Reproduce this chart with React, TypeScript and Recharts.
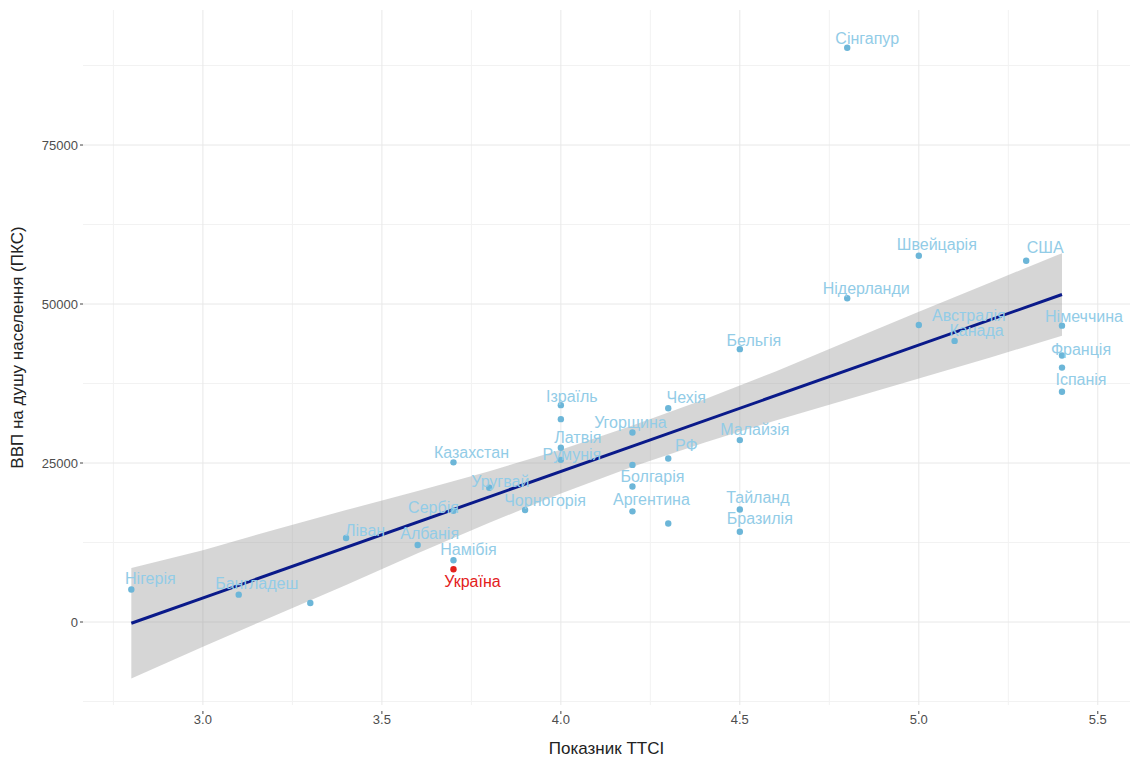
import React from "react";
import {
  ComposedChart,
  Scatter,
  Area,
  Line,
  XAxis,
  YAxis,
  CartesianGrid,
} from "recharts";

const countries = [
  "Сінгапур", "Швейцарія", "США", "Нідерланди", "Австралія", "Канада",
  "Німеччина", "Франція", "", "Іспанія", "Бельгія", "Ізраїль", "",
  "Латвія", "Румунія", "Чехія", "Угорщина", "РФ", "Малайзія", "",
  "Болгарія", "Аргентина", "", "Тайланд", "Бразилія", "Казахстан",
  "Уругвай", "Чорногорія", "Сербія", "Албанія", "Намібія", "Україна",
  "Ліван", "Нігерія", "Бангладеш", "",
];
const ttci = [
  4.8, 5.0, 5.3, 4.8, 5.0, 5.1,
  5.4, 5.4, 5.4, 5.4, 4.5, 4.0, 4.0,
  4.0, 4.0, 4.3, 4.2, 4.3, 4.5, 4.2,
  4.2, 4.2, 4.3, 4.5, 4.5, 3.7,
  3.8, 3.9, 3.7, 3.6, 3.7, 3.7,
  3.4, 2.8, 3.1, 3.3,
];
const gdp = [
  90300, 57600, 56800, 50900, 46700, 44200,
  46600, 41900, 40000, 36200, 42900, 34100, 31900,
  27400, 25500, 33600, 29800, 25700, 28600, 24700,
  21300, 17400, 15500, 17700, 14200, 25100,
  21100, 17600, 17500, 12100, 9700, 8300,
  13200, 5100, 4300, 3000,
];

// linear fit and its confidence band
const fitX = [2.8, 5.4];
const fitY = [-200, 51500];
const bandX = [2.8, 3.0, 3.2, 3.4, 3.6, 3.8, 4.0, 4.2, 4.4, 4.6, 4.8, 5.0, 5.2, 5.4];
const bandLow = [-8900, -3900, 1000, 5800, 10800, 15600, 20200, 24400, 28200, 31700, 35000, 38300, 41600, 45000];
const bandHigh = [8500, 11300, 14500, 17600, 20600, 23700, 27100, 30900, 35000, 39400, 44100, 48800, 53400, 58000];

const xTicks = [3.0, 3.5, 4.0, 4.5, 5.0, 5.5];
const yTicks = [0, 25000, 50000, 75000];
const xMinor = [2.75, 3.25, 3.75, 4.25, 4.75, 5.25];
const yMinor = [-12500, 12500, 37500, 62500, 87500];

// label offsets in px (text centre relative to the point)
const labelOffset: Record<string, [number, number]> = {
  "Сінгапур": [20, -9], "Швейцарія": [18, -11], "США": [19, -13],
  "Нідерланди": [19, -10], "Австралія": [50, -10], "Канада": [22, -10],
  "Німеччина": [22, -9], "Франція": [19, -6], "Іспанія": [19, -12],
  "Бельгія": [14, -9], "Ізраїль": [11, -9], "Латвія": [17, -10],
  "Румунія": [11, -5], "Чехія": [18, -11], "Угорщина": [-2, -10],
  "РФ": [18, -13], "Малайзія": [15, -11], "Болгарія": [20, -10],
  "Аргентина": [19, -12], "Тайланд": [18, -12], "Бразилія": [20, -13],
  "Казахстан": [18, -10], "Уругвай": [11, -6], "Чорногорія": [20, -10],
  "Сербія": [-20, -3], "Албанія": [12, -12], "Намібія": [15, -11],
  "Україна": [19, 12], "Ліван": [19, -8], "Нігерія": [19, -11],
  "Бангладеш": [18, -11],
};

const points = countries.map((name, i) => ({ name, x: ttci[i], gdp: gdp[i] }));
const fit = fitX.map((x, i) => ({ x, fit: fitY[i] }));
const band = bandX.map((x, i) => ({ x, band: [bandLow[i], bandHigh[i]] }));

const FONT = "'Liberation Sans', Arial, sans-serif";

function CountryDot(props: any) {
  const { cx, cy, payload } = props;
  const red = payload.name === "Україна";
  const off = labelOffset[payload.name] || [0, 0];
  return (
    <g>
      <circle cx={cx} cy={cy} r={3.2} fill={red ? "#e3211c" : "#6cb6d8"} />
      {payload.name && (
        <text
          x={cx + off[0]}
          y={cy + off[1]}
          textAnchor="middle"
          dominantBaseline="central"
          fontFamily={FONT}
          fontSize={16}
          fill={red ? "#e3211c" : "#92cce7"}
        >
          {payload.name}
        </text>
      )}
    </g>
  );
}

function YTitle(props: any) {
  const { viewBox } = props;
  const cy = viewBox.y + viewBox.height / 2 - 10;
  return (
    <text
      x={17}
      y={cy}
      transform={`rotate(-90, 17, ${cy})`}
      textAnchor="middle"
      dominantBaseline="central"
      fontFamily={FONT}
      fontSize={17}
      fill="#222"
    >
      ВВП на душу населення (ПКС)
    </text>
  );
}

export default function App() {
  return (
    <div style={{ position: "absolute", left: 0, top: 0, background: "#fff" }}>
      <ComposedChart
        width={1134}
        height={761}
        margin={{ top: 10, right: 4, bottom: 0, left: 0 }}
      >
        <CartesianGrid
          stroke="#f2f2f2"
          horizontalValues={yMinor}
          verticalValues={xMinor}
        />
        <CartesianGrid
          stroke="#e8e8e8"
          horizontalValues={yTicks}
          verticalValues={xTicks}
        />
        <XAxis
          type="number"
          dataKey="x"
          domain={[2.665, 5.59]}
          allowDataOverflow
          ticks={xTicks}
          tickFormatter={(v: number) => v.toFixed(1)}
          axisLine={false}
          tickSize={3}
          tickMargin={7}
          tickLine={{ stroke: "#444", transform: "translate(0, 6)" }}
          tick={{ fontSize: 13, fill: "#4d4d4d", fontFamily: FONT }}
          height={56}
          label={{
            value: "Показник TTCI",
            position: "insideBottom",
            offset: 7,
            style: { fontSize: 17, fill: "#222", fontFamily: FONT },
          }}
        />
        <YAxis
          type="number"
          domain={[-13050, 96230]}
          allowDataOverflow
          ticks={yTicks}
          axisLine={false}
          tickSize={3}
          tickLine={{ stroke: "#444" }}
          tick={{ fontSize: 13, fill: "#4d4d4d", fontFamily: FONT }}
          width={83}
          label={<YTitle />}
        />
        <Scatter
          data={points}
          dataKey="gdp"
          shape={<CountryDot />}
          isAnimationActive={false}
        />
        <Area
          data={band}
          dataKey="band"
          type="linear"
          stroke="none"
          fill="#999999"
          fillOpacity={0.4}
          isAnimationActive={false}
        />
        <Line
          data={fit}
          dataKey="fit"
          type="linear"
          stroke="#0a1a8a"
          strokeWidth={3}
          dot={false}
          isAnimationActive={false}
        />
      </ComposedChart>
    </div>
  );
}
